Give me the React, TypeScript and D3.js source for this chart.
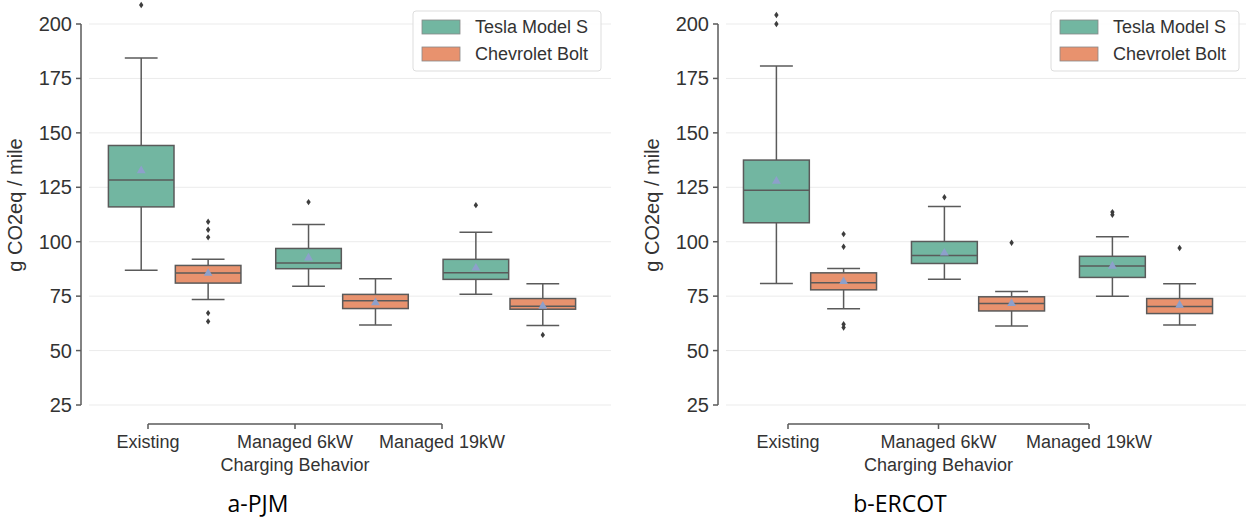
import * as d3 from 'd3';

const categories = ['Existing', 'Managed 6kW', 'Managed 19kW'];
const seriesNames = ['Tesla Model S', 'Chevrolet Bolt'];
const colors = ['#72b6a1', '#e8926e'];
const yTicks = [25, 50, 75, 100, 125, 150, 175, 200];

// box stats: [low whisker, q1, median, q3, high whisker, mean]
const pjmTesla = [
  [86.9, 116.0, 128.3, 144.2, 184.4, 132.6],
  [79.6, 87.6, 90.2, 96.9, 107.9, 92.6],
  [75.9, 82.7, 85.7, 91.9, 104.4, 87.9],
];
const pjmTeslaOut = [[208.7], [118.2], [116.8]];
const pjmBolt = [
  [73.5, 81.0, 85.6, 89.1, 91.9, 85.5],
  [61.8, 69.3, 72.9, 75.8, 83.0, 72.0],
  [61.5, 69.0, 70.4, 73.9, 80.7, 70.4],
];
const pjmBoltOut = [[109.2, 105.5, 102.0, 67.2, 63.4], [], [57.2]];

const ercotTesla = [
  [80.8, 108.7, 123.6, 137.5, 180.7, 127.8],
  [82.8, 90.0, 93.7, 100.1, 116.2, 94.8],
  [74.9, 83.6, 88.8, 93.3, 102.3, 88.8],
];
const ercotTeslaOut = [[204.1, 200.0], [120.4], [113.6, 112.4]];
const ercotBolt = [
  [69.2, 77.9, 81.1, 85.7, 87.7, 81.7],
  [61.3, 68.2, 71.6, 74.7, 77.1, 71.6],
  [61.7, 67.0, 70.3, 73.9, 80.7, 70.9],
];
const ercotBoltOut = [[103.5, 97.7, 62.1, 60.6], [99.5], [97.1]];

const panels = [
  {
    caption: 'a-PJM', axisX: 81, boxRange: [91, 593], tickRange: [148, 442],
    gridRange: [89, 611], legendX: 413, captionX: 258,
    stats: [pjmTesla, pjmBolt], outliers: [pjmTeslaOut, pjmBoltOut],
  },
  {
    caption: 'b-ERCOT', axisX: 718, boxRange: [726, 1230], tickRange: [788, 1089],
    gridRange: [726, 1246], legendX: 1051, captionX: 900,
    stats: [ercotTesla, ercotBolt], outliers: [ercotTeslaOut, ercotBoltOut],
  },
];

const y = d3.scaleLinear().domain([25, 200]).range([405, 24]);
const font = '"Liberation Sans", Arial, sans-serif';
const edge = '#5a5a5a';

const Panel = ({ p }) => {
  const x = d3.scaleBand().domain(categories).range(p.boxRange);
  const hue = d3.scaleBand().domain(seriesNames)
    .range([x.bandwidth() * 0.1, x.bandwidth() * 0.9]);
  const xTick = d3.scalePoint().domain(categories).range(p.tickRange);
  const bw = hue.bandwidth() * 0.98;
  const tri = d3.symbol(d3.symbolTriangle, 34)();
  const diamond = 'M0,-3.2L2.2,0L0,3.2L-2.2,0Z';

  return (
    <g>
      {yTicks.map(t => (
        <line key={t} x1={p.gridRange[0]} x2={p.gridRange[1]} y1={y(t)} y2={y(t)}
          stroke="#ebebeb" strokeWidth={1} />
      ))}
      {/* y axis */}
      <line x1={p.axisX} x2={p.axisX} y1={y(200)} y2={y(25)} stroke={edge} strokeWidth={1.5} />
      {yTicks.map(t => (
        <g key={t} transform={`translate(${p.axisX},${y(t)})`}>
          <line x1={-5} x2={0} stroke={edge} strokeWidth={1.5} />
          <text x={-9} dy="0.35em" textAnchor="end" fontSize={20} fill="#333">{t}</text>
        </g>
      ))}
      <text transform={`translate(${p.axisX - 59},205) rotate(-90)`} textAnchor="middle"
        fontSize={20} fill="#333">g CO2eq / mile</text>
      {/* x axis */}
      <line x1={p.tickRange[0]} x2={p.tickRange[1]} y1={424} y2={424} stroke={edge} strokeWidth={1.5} />
      {categories.map(c => (
        <g key={c} transform={`translate(${xTick(c)},424)`}>
          <line y1={0} y2={5} stroke={edge} strokeWidth={1.5} />
          <text y={18} dy="0.35em" textAnchor="middle" fontSize={18} fill="#333">{c}</text>
        </g>
      ))}
      <text x={xTick(categories[1])} y={465} dy="0.35em" textAnchor="middle" fontSize={18} fill="#333">
        Charging Behavior
      </text>
      {/* boxes */}
      {seriesNames.map((s, si) => categories.map((c, ci) => {
        const [lo, q1, med, q3, hi, mean] = p.stats[si][ci];
        const cx = x(c) + hue(s) + hue.bandwidth() / 2;
        return (
          <g key={s + c}>
            <line x1={cx} x2={cx} y1={y(hi)} y2={y(q3)} stroke={edge} strokeWidth={1.5} />
            <line x1={cx} x2={cx} y1={y(q1)} y2={y(lo)} stroke={edge} strokeWidth={1.5} />
            <line x1={cx - bw / 4} x2={cx + bw / 4} y1={y(hi)} y2={y(hi)} stroke={edge} strokeWidth={1.5} />
            <line x1={cx - bw / 4} x2={cx + bw / 4} y1={y(lo)} y2={y(lo)} stroke={edge} strokeWidth={1.5} />
            <rect x={cx - bw / 2} y={y(q3)} width={bw} height={y(q1) - y(q3)}
              fill={colors[si]} stroke={edge} strokeWidth={1.5} />
            <line x1={cx - bw / 2} x2={cx + bw / 2} y1={y(med)} y2={y(med)} stroke={edge} strokeWidth={1.5} />
            <path d={tri} transform={`translate(${cx},${y(mean)})`} fill="#8da0cb" />
            {p.outliers[si][ci].map((o, oi) => (
              <path key={oi} d={diamond} transform={`translate(${cx},${y(o)})`} fill="#3d3d3d" />
            ))}
          </g>
        );
      }))}
      {/* legend */}
      <g transform={`translate(${p.legendX},11)`}>
        <rect width={188} height={60} rx={3} fill="#fff" fillOpacity={0.85} stroke="#ddd" />
        {seriesNames.map((s, si) => (
          <g key={s} transform={`translate(9,${9 + si * 27})`}>
            <rect width={38} height={14} fill={colors[si]} stroke="#888" strokeWidth={0.8} />
            <text x={53} y={7} dy="0.35em" fontSize={18} fill="#333">{s}</text>
          </g>
        ))}
      </g>
      <text x={p.captionX} y={504} dy="0.35em" textAnchor="middle" fontSize={23}
        fontFamily='"Open Sans", sans-serif' fill="#000">{p.caption}</text>
    </g>
  );
};

export default function App() {
  return (
    <svg width={1246} height={521} style={{ position: 'absolute', left: 0, top: 0, background: '#fff' }}
      fontFamily={font}>
      {panels.map(p => <Panel key={p.caption} p={p} />)}
    </svg>
  );
}
